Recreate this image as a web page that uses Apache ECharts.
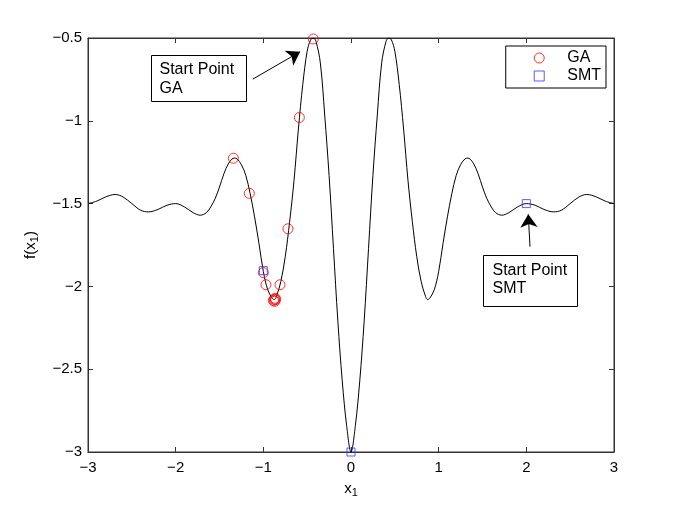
<!DOCTYPE html>
<html>
<head>
<meta charset="utf-8">
<script src="https://cdn.jsdelivr.net/npm/echarts@6/dist/echarts.min.js"></script>
<style>
  html, body { margin: 0; padding: 0; background: #fff; }
  #chart { width: 677px; height: 508px; }
</style>
</head>
<body>
<div id="chart"></div>
<script>
// curve f(x1) (symmetric about x1 = 0)
const curveX = [
  -3, -2.9, -2.8, -2.69, -2.6, -2.5, -2.4, -2.31, -2.2, -2.1, -2, -1.9, -1.8, -1.72, -1.65, -1.6, -1.55, -1.5,
  -1.45, -1.4, -1.36, -1.33, -1.3, -1.25, -1.2, -1.15, -1.1, -1.05, -1, -0.95, -0.9, -0.875, -0.85, -0.8,
  -0.75, -0.7, -0.65, -0.6, -0.55, -0.5, -0.46, -0.43, -0.4, -0.35, -0.3, -0.25, -0.2, -0.15, -0.1, -0.05,
  0,
  0.05, 0.1, 0.15, 0.2, 0.25, 0.3, 0.35, 0.4, 0.43, 0.46, 0.5, 0.55, 0.6, 0.65, 0.7, 0.75,
  0.8, 0.85, 0.875, 0.9, 0.95, 1, 1.05, 1.1, 1.15, 1.2, 1.25, 1.3, 1.33, 1.36, 1.4, 1.45,
  1.5, 1.55, 1.6, 1.65, 1.72, 1.8, 1.9, 2, 2.1, 2.2, 2.31, 2.4, 2.5, 2.6, 2.69, 2.8, 2.9, 3
];
const curveY = [
  -1.5, -1.485, -1.46, -1.445, -1.46, -1.5, -1.54, -1.55, -1.535, -1.51, -1.5, -1.52, -1.555, -1.57, -1.555, -1.52, -1.47, -1.4,
  -1.32, -1.26, -1.232, -1.225, -1.23, -1.265, -1.33, -1.44, -1.58, -1.74, -1.91, -2.02, -2.07, -2.08, -2.06, -1.97,
  -1.82, -1.61, -1.36, -1.05, -0.78, -0.58, -0.51, -0.5, -0.52, -0.65, -0.965, -1.33, -1.77, -2.21, -2.57, -2.84,
  -3,
  -2.84, -2.57, -2.21, -1.77, -1.33, -0.965, -0.65, -0.52, -0.5, -0.51, -0.58, -0.78, -1.05, -1.36, -1.61, -1.82,
  -1.97, -2.06, -2.08, -2.07, -2.02, -1.91, -1.74, -1.58, -1.44, -1.33, -1.265, -1.23, -1.225, -1.232, -1.26, -1.32,
  -1.4, -1.47, -1.52, -1.555, -1.57, -1.555, -1.52, -1.5, -1.51, -1.535, -1.55, -1.54, -1.5, -1.46, -1.445, -1.46, -1.485, -1.5
];

// GA iterates
const gaX = [-0.43, -0.589, -0.719, -1.342, -1.16, -1.0, -0.97, -0.81, -0.875, -0.865, -0.885, -0.87, -0.86];
const gaY = [-0.506, -0.98, -1.652, -1.226, -1.438, -1.917, -1.99, -1.99, -2.078, -2.072, -2.085, -2.09, -2.08];

// SMT iterates
const smtX = [2, -1.0, 0];
const smtY = [-1.5, -1.905, -3];

const xTicks = [-3, -2, -1, 0, 1, 2, 3];
const yTicks = [-3, -2.5, -2, -1.5, -1, -0.5];

const FONT = '"Liberation Sans", Arial, Helvetica, sans-serif';
const minus = v => String(v).replace('-', '\u2212');

const chart = echarts.init(document.getElementById('chart'));

const axisCommon = {
  axisLine: { show: true, onZero: false, lineStyle: { color: '#333', width: 1 } },
  axisTick: { show: true, inside: true, length: 5, lineStyle: { color: '#333' } },
  splitLine: { show: false }
};

chart.setOption({
  animation: false,
  backgroundColor: '#fff',
  textStyle: { fontFamily: FONT },
  grid: { left: 88, right: 63, top: 38, bottom: 56, show: true, borderColor: '#333', borderWidth: 1 },
  legend: {
    data: ['GA', 'SMT'],
    orient: 'vertical',
    right: 71, top: 46,
    backgroundColor: '#fff',
    borderColor: '#000', borderWidth: 1, borderRadius: 0,
    padding: [4, 5, 4, 28],
    itemWidth: 10, itemHeight: 10, itemGap: 2,
    itemStyle: { borderWidth: 1 },
    textStyle: { fontFamily: FONT, fontSize: 16, color: '#000', padding: [0, 0, 0, 18] }
  },
  xAxis: [
    Object.assign({
      type: 'value', min: xTicks[0], max: xTicks[xTicks.length - 1], interval: 1,
      position: 'bottom',
      name: '{x|x}{s|1}', nameLocation: 'middle', nameGap: 27,
      nameTextStyle: { rich: {
        x: { fontFamily: FONT, fontSize: 15, color: '#000' },
        s: { fontFamily: FONT, fontSize: 11, color: '#000', verticalAlign: 'bottom', padding: [8, 0, 0, 0] }
      } },
      axisLabel: { formatter: minus, fontFamily: FONT, fontSize: 15, color: '#000', margin: 8 }
    }, axisCommon),
    Object.assign({
      type: 'value', min: xTicks[0], max: xTicks[xTicks.length - 1], interval: 1,
      position: 'top', axisLabel: { show: false }
    }, axisCommon)
  ],
  yAxis: [
    Object.assign({
      type: 'value', min: yTicks[0], max: yTicks[yTicks.length - 1], interval: 0.5,
      position: 'left',
      name: '{x|f(x}{s|1}{x|)}', nameLocation: 'middle', nameGap: 48, nameRotate: 90,
      nameTextStyle: { rich: {
        x: { fontFamily: FONT, fontSize: 15, color: '#000' },
        s: { fontFamily: FONT, fontSize: 11, color: '#000', verticalAlign: 'bottom', padding: [8, 0, 0, 0] }
      } },
      axisLabel: { formatter: minus, fontFamily: FONT, fontSize: 15, color: '#000', margin: 6 }
    }, axisCommon),
    Object.assign({
      type: 'value', min: yTicks[0], max: yTicks[yTicks.length - 1], interval: 0.5,
      position: 'right', axisLabel: { show: false }
    }, axisCommon)
  ],
  graphic: [
    {
      type: 'group', left: 151, top: 55, silent: true, children: [
        { type: 'rect', shape: { x: 0, y: 0, width: 95, height: 46 }, style: { fill: '#fff', stroke: '#000', lineWidth: 1 } },
        { type: 'text', x: 8, y: 5, style: { text: 'Start Point\nGA', font: '16px ' + FONT, fill: '#000', lineHeight: 19 } }
      ]
    },
    {
      type: 'group', left: 483, top: 255, silent: true, children: [
        { type: 'rect', shape: { x: 0, y: 0, width: 94, height: 51 }, style: { fill: '#fff', stroke: '#000', lineWidth: 1 } },
        { type: 'text', x: 9, y: 6, style: { text: 'Start Point\nSMT', font: '16px ' + FONT, fill: '#000', lineHeight: 18 } }
      ]
    }
  ],
  series: [
    {
      type: 'line',
      data: curveX.map((x, i) => [x, curveY[i]]),
      smooth: 0.35,
      showSymbol: false,
      lineStyle: { color: '#000', width: 1 },
      silent: true,
      z: 2,
      markLine: {
        silent: true,
        symbol: ['none', 'arrow'],
        symbolSize: 13,
        lineStyle: { color: '#000', width: 1, type: 'solid' },
        label: { show: false },
        data: [
          [{ coord: [-1.12, -0.748] }, { coord: [-0.58, -0.583] }],
          [{ coord: [2.042, -1.76] }, { coord: [2.022, -1.565] }]
        ]
      }
    },
    {
      name: 'GA', type: 'scatter',
      data: gaX.map((x, i) => [x, gaY[i]]),
      symbol: 'circle', symbolSize: 10,
      itemStyle: { color: 'rgba(0,0,0,0)', borderColor: '#ff0000', borderWidth: 1 },
      z: 3
    },
    {
      name: 'SMT', type: 'scatter',
      data: smtX.map((x, i) => [x, smtY[i]]),
      symbol: 'rect', symbolSize: 8,
      itemStyle: { color: 'rgba(0,0,0,0)', borderColor: '#3333ff', borderWidth: 1 },
      z: 3
    }
  ]
});
</script>
</body>
</html>
